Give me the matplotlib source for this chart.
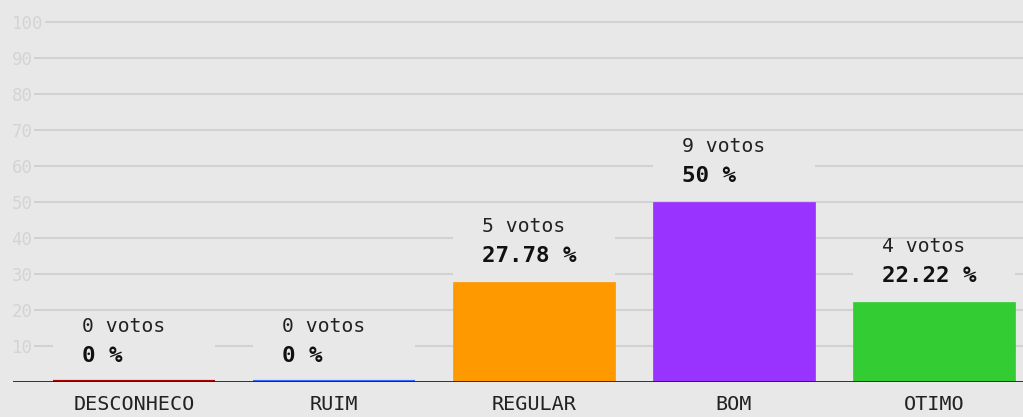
import matplotlib
matplotlib.use('Agg')
import matplotlib.pyplot as plt
from matplotlib.patches import Rectangle

categories = ['DESCONHECO', 'RUIM', 'REGULAR', 'BOM', 'OTIMO']
votes = [0, 0, 5, 9, 4]
percents = [0, 0, 27.78, 50, 22.22]
pct_labels = ['0 %', '0 %', '27.78 %', '50 %', '22.22 %']
colors = ['#aa0000', '#3a6cff', '#ff9900', '#9933ff', '#33cc33']
yticks = [10, 20, 30, 40, 50, 60, 70, 80, 90, 100]

bg = '#e8e8e8'
mono = 'DejaVu Sans Mono'

fig = plt.figure(figsize=(10.23, 4.17), dpi=100, facecolor=bg)
ax = fig.add_axes([13 / 1023, 35 / 417, 1010 / 1023, 382 / 417])
ax.set_facecolor(bg)

x = list(range(len(categories)))
w = 0.81
# empty categories still show as a thin coloured strip on the baseline
lw = [3 if p == 0 else 0.5 for p in percents]
ax.bar(x, percents, width=w, color=colors, edgecolor=colors, linewidth=lw, zorder=3)

# background boxes behind the value labels hide the grid
for i, p in enumerate(percents):
    ax.add_patch(Rectangle((i - w / 2, p + 0.4), w, 16.3, facecolor=bg,
                           edgecolor='none', zorder=1.5))
    ax.annotate(f'{votes[i]} votos', (i - w / 2, p), xytext=(21, 40),
                textcoords='offset points', ha='left', va='center',
                fontsize=14.2, family=mono, color='#222222', zorder=4)
    ax.annotate(pct_labels[i], (i - w / 2, p), xytext=(21, 19),
                textcoords='offset points', ha='left', va='center',
                fontsize=16.2, family=mono, fontweight='bold', color='#111111', zorder=4)

ax.axhline(0, color='#222222', linewidth=2, zorder=5)

ax.set_xlim(-0.605, 4.445)
ax.set_ylim(0, 106.1)
ax.set_yticks(yticks)
ax.set_yticklabels([str(t) for t in yticks])
ax.yaxis.grid(True, color='#d2d2d2', linewidth=1.5)
ax.set_axisbelow(True)
ax.tick_params(axis='y', length=0, pad=1, labelsize=12.5, labelcolor='#d4d4d4')
for lab in ax.get_yticklabels():
    lab.set_horizontalalignment('left')
    lab.set_family(mono)
    lab.set_bbox(dict(facecolor=bg, edgecolor='none', pad=1))

ax.set_xticks(x)
ax.set_xticklabels(categories, family=mono, fontsize=14.5, color='#222222')
ax.tick_params(axis='x', length=0, pad=9)

for s in ax.spines.values():
    s.set_visible(False)

plt.savefig('out.png', dpi=100, facecolor=bg)
plt.close()
